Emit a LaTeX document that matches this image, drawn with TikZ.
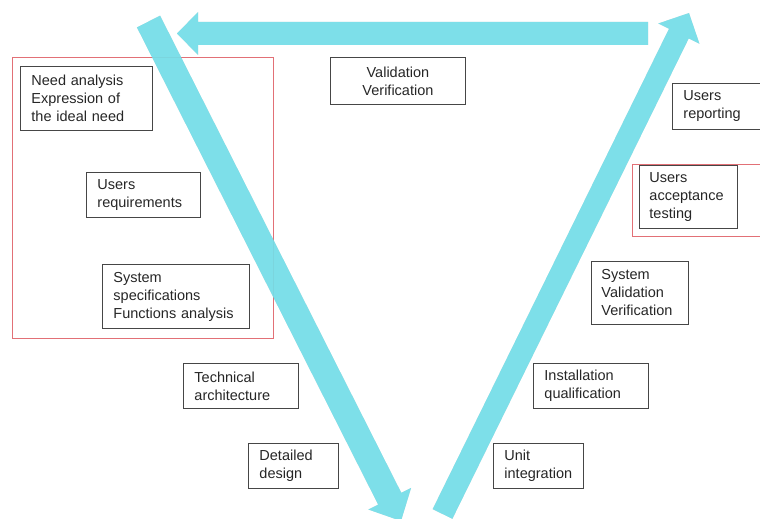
\documentclass[tikz,border=0pt]{standalone}
\usepackage{fontspec}
\setmainfont{Liberation Sans}
\usetikzlibrary{calc}
\definecolor{arrowcyan}{RGB}{116,223,233}
\definecolor{boxgray}{RGB}{70,70,70}
\definecolor{redline}{RGB}{226,112,118}
\begin{document}
\begin{tikzpicture}[x=1pt,y=-1pt,
  box/.style={draw=boxgray, line width=0.9pt, anchor=north west, inner xsep=11pt, inner ysep=0pt,
    align=left, font=\fontsize{14.5}{18}\selectfont, text=black!85},
  redframe/.style={draw=redline, line width=0.7pt},
  fatarrow/.style={fill=arrowcyan, opacity=0.92},
  fatshadow/.style={fill=black!60!red, opacity=0.12}]
\useasboundingbox (0,0) rectangle (760,519);

% red frames
\draw[redframe] (12,57) rectangle (273,338);
\draw[redframe] (632,164) rectangle (775,236);

% boxes
\node[box, minimum width=132pt, minimum height=64pt, text width=110pt] (need) at (20,66)
  {Need analysis\\Expression of\\the ideal need};
\node[box, minimum width=114pt, minimum height=45pt, text width=92pt] (ureq) at (86,172)
  {Users\\requirements};
\node[box, minimum width=147pt, minimum height=64pt, text width=125pt] (sspec) at (102,264)
  {System\\specifications\\Functions analysis};
\node[box, minimum width=115pt, minimum height=45pt, text width=93pt] (tarch) at (183,363)
  {Technical\\architecture};
\node[box, minimum width=90pt, minimum height=45pt, text width=68pt] (ddes) at (248,443)
  {Detailed\\design};
\node[box, minimum width=90pt, minimum height=45pt, text width=68pt] (uint) at (493,443)
  {Unit\\integration};
\node[box, minimum width=115pt, minimum height=45pt, text width=93pt] (iq) at (533,363)
  {Installation\\qualification};
\node[box, minimum width=97pt, minimum height=63pt, text width=77pt, inner xsep=10pt] (sval) at (591,261)
  {System\\Validation\\Verification};
\node[box, minimum width=98pt, minimum height=63pt, text width=78pt, inner xsep=10pt] (uat) at (639,165)
  {Users\\acceptance\\testing};
\node[box, minimum width=100pt, minimum height=46pt, text width=78pt] (urep) at (672,83)
  {Users\\reporting};
\node[box, minimum width=135pt, minimum height=47pt, text width=113pt, align=center] (vv) at (330,57)
  {Validation\\Verification};

% arrow geometry
\coordinate (A1) at (148.5,21.5); \coordinate (T1) at (401,521);
\coordinate (B1) at ($(T1)!25pt!(A1)$);
\coordinate (A2) at (442.5,514); \coordinate (T2) at (689,13);
\coordinate (B2) at ($(T2)!23pt!(A2)$);
\coordinate (A3) at (648,33.5); \coordinate (T3) at (177,33.5);
\coordinate (B3) at ($(T3)!21pt!(A3)$);

% shadows
\begin{scope}[shift={(1.5,2)}]
\fill[fatshadow] ($(A1)!13pt!90:(T1)$) -- ($(B1)!13pt!90:(T1)$) -- ($(B1)!24pt!90:(T1)$) -- (T1)
  -- ($(B1)!24pt!-90:(T1)$) -- ($(B1)!13pt!-90:(T1)$) -- ($(A1)!13pt!-90:(T1)$) -- cycle;
\fill[fatshadow] ($(A2)!11pt!90:(T2)$) -- ($(B2)!11pt!90:(T2)$) -- ($(B2)!23pt!90:(T2)$) -- (T2)
  -- ($(B2)!23pt!-90:(T2)$) -- ($(B2)!11pt!-90:(T2)$) -- ($(A2)!11pt!-90:(T2)$) -- cycle;
\fill[fatshadow] ($(A3)!11.5pt!90:(T3)$) -- ($(B3)!11.5pt!90:(T3)$) -- ($(B3)!21.5pt!90:(T3)$) -- (T3)
  -- ($(B3)!21.5pt!-90:(T3)$) -- ($(B3)!11.5pt!-90:(T3)$) -- ($(A3)!11.5pt!-90:(T3)$) -- cycle;
\end{scope}

% arrows
\fill[fatarrow] ($(A1)!13pt!90:(T1)$) -- ($(B1)!13pt!90:(T1)$) -- ($(B1)!24pt!90:(T1)$) -- (T1)
  -- ($(B1)!24pt!-90:(T1)$) -- ($(B1)!13pt!-90:(T1)$) -- ($(A1)!13pt!-90:(T1)$) -- cycle;
\fill[fatarrow] ($(A2)!11pt!90:(T2)$) -- ($(B2)!11pt!90:(T2)$) -- ($(B2)!23pt!90:(T2)$) -- (T2)
  -- ($(B2)!23pt!-90:(T2)$) -- ($(B2)!11pt!-90:(T2)$) -- ($(A2)!11pt!-90:(T2)$) -- cycle;
\fill[fatarrow] ($(A3)!11.5pt!90:(T3)$) -- ($(B3)!11.5pt!90:(T3)$) -- ($(B3)!21.5pt!90:(T3)$) -- (T3)
  -- ($(B3)!21.5pt!-90:(T3)$) -- ($(B3)!11.5pt!-90:(T3)$) -- ($(A3)!11.5pt!-90:(T3)$) -- cycle;
\end{tikzpicture}
\end{document}
